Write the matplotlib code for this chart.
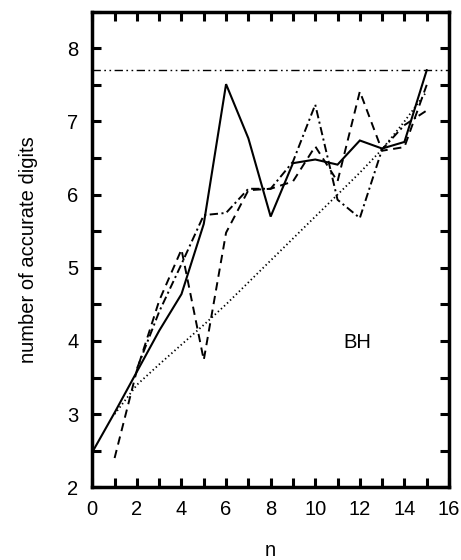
import numpy as np
import matplotlib
matplotlib.use('Agg')
import matplotlib.pyplot as plt
from matplotlib.ticker import MultipleLocator

plt.rcParams['font.family'] = ['Liberation Sans', 'DejaVu Sans']
plt.rcParams['font.size'] = 14.5
plt.rcParams['lines.scale_dashes'] = False

# values
n_solid = list(range(0, 16))
solid = [2.48, 3.02, 3.58, 4.14, 4.64, 5.60, 7.51, 6.77, 5.70, 6.43, 6.48, 6.41, 6.74, 6.63, 6.72, 7.70]

n_dashed = list(range(1, 16))
dashed = [2.40, 3.60, 4.55, 5.25, 3.74, 5.48, 6.06, 6.08, 6.18, 6.66, 6.18, 7.41, 6.60, 6.65, 7.50]

n_dashdot = list(range(2, 16))
dashdot = [3.62, 4.40, 5.05, 5.72, 5.75, 6.08, 6.08, 6.45, 7.23, 5.93, 5.68, 6.62, 6.95, 7.15]

n_dotted = list(range(1, 16))
dotted = [3.00, 3.40, 3.68, 3.95, 4.22, 4.50, 4.80, 5.10, 5.40, 5.70, 6.00, 6.30, 6.62, 7.00, 7.41]

limit = 7.7

fig = plt.figure(figsize=(4.61, 5.60), dpi=100)
ax = fig.add_axes([0.2002, 0.1298, 0.7738, 0.8493])

ax.plot(n_solid, solid, color='k', lw=1.5, solid_joinstyle='miter')
ax.plot(n_dashed, dashed, color='k', lw=1.4, linestyle=(0, (6, 4)))
ax.plot(n_dashdot, dashdot, color='k', lw=1.4, linestyle=(0, (6, 2.5, 1.5, 2.5)))
ax.plot(n_dotted, dotted, color='k', lw=1.3, linestyle=(0, (1, 2)))
ax.axhline(limit, color='k', lw=1.0, linestyle=(0, (6, 2.5, 1.2, 2.5, 1.2, 2.5)))

ax.text(11.9, 3.98, 'BH', ha='center', va='center')

ax.set_xlim(0, 16)
ax.set_ylim(2, 8.5)
ax.xaxis.set_major_locator(MultipleLocator(2))
ax.xaxis.set_minor_locator(MultipleLocator(1))
ax.yaxis.set_major_locator(MultipleLocator(1))
ax.yaxis.set_minor_locator(MultipleLocator(0.5))
ax.tick_params(which='both', direction='in', top=True, right=True,
               length=6.5, width=2.2)
ax.tick_params(axis='x', which='major', pad=9)
ax.tick_params(axis='y', which='major', pad=10)
for s in ax.spines.values():
    s.set_linewidth(2.5)

ax.set_xlabel('n', labelpad=16)
ax.set_ylabel('number of accurate digits', labelpad=21)

plt.savefig('out.png', dpi=100)
